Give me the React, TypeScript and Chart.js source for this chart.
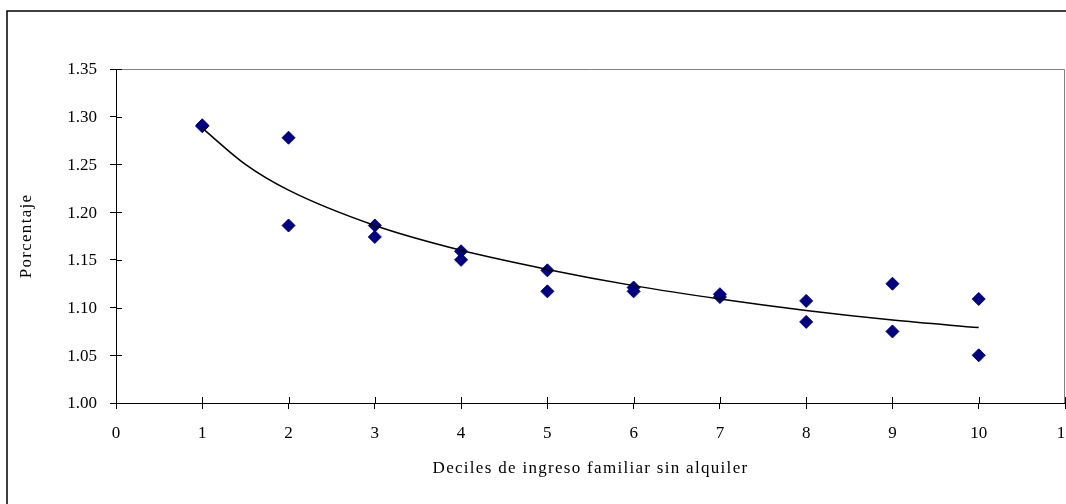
import React, { useEffect, useRef } from "react";
import { Chart, registerables } from "chart.js";

Chart.register(...registerables);

// Deciles de ingreso familiar sin alquiler
const deciles = [1, 2, 3, 4, 5, 6, 7, 8, 9, 10];
// Two observations per decile (upper and lower markers)
const serieA = [1.291, 1.278, 1.186, 1.159, 1.139, 1.121, 1.114, 1.107, 1.125, 1.109];
const serieB = [1.290, 1.186, 1.174, 1.150, 1.117, 1.117, 1.111, 1.085, 1.075, 1.050];
// Trend line
const trendX = [1, 1.5, 2, 3, 4, 5, 6, 7, 8, 9, 10];
const trendY = [1.288, 1.250, 1.223, 1.186, 1.160, 1.140, 1.123, 1.109, 1.097, 1.087, 1.079];
// Axis settings
const xTicks = [0, 1, 2, 3, 4, 5, 6, 7, 8, 9, 10, 11];
const yTicks = [1.0, 1.05, 1.1, 1.15, 1.2, 1.25, 1.3, 1.35];
const xTitle = "Deciles de ingreso familiar sin alquiler";
const yTitle = "Porcentaje";

const FONT = "'Liberation Serif', 'Times New Roman', serif";
const MARKER = "#000080";

const framePlugin = {
  id: "frame",
  afterDraw(chart: any) {
    const { ctx, chartArea: a, scales } = chart;
    ctx.save();
    // plot area border (top & right) in grey
    ctx.strokeStyle = "#808080";
    ctx.lineWidth = 1;
    ctx.beginPath();
    ctx.moveTo(a.left, a.top + 0.5);
    ctx.lineTo(a.right - 0.5, a.top + 0.5);
    ctx.lineTo(a.right - 0.5, a.bottom);
    ctx.stroke();
    // inner halves of cross tick marks
    ctx.strokeStyle = "#000";
    ctx.beginPath();
    yTicks.forEach((v) => {
      const y = Math.round(scales.y.getPixelForValue(v)) + 0.5;
      ctx.moveTo(a.left, y);
      ctx.lineTo(a.left + 6, y);
    });
    xTicks.forEach((v) => {
      const x = Math.round(scales.x.getPixelForValue(v)) + 0.5;
      ctx.moveTo(x, a.bottom);
      ctx.lineTo(x, a.bottom - 6);
    });
    ctx.stroke();
    // outer chart frame
    ctx.lineWidth = 1.5;
    ctx.beginPath();
    ctx.moveTo(7, 504);
    ctx.lineTo(7, 11);
    ctx.lineTo(1066, 11);
    ctx.stroke();
    // tick labels
    ctx.fillStyle = "#000";
    ctx.font = `17px ${FONT}`;
    ctx.textBaseline = "middle";
    ctx.textAlign = "right";
    yTicks.forEach((v) => {
      ctx.fillText(v.toFixed(2), a.left - 19, scales.y.getPixelForValue(v) + 1);
    });
    ctx.textAlign = "center";
    xTicks.forEach((v) => {
      ctx.fillText(String(v), scales.x.getPixelForValue(v), 434);
    });
    // axis titles
    (ctx as any).letterSpacing = "1.3px";
    ctx.fillText(xTitle, (a.left + a.right) / 2, 469);
    ctx.translate(27, (a.top + a.bottom) / 2);
    ctx.rotate(-Math.PI / 2);
    ctx.fillText(yTitle, 0, 0);
    ctx.restore();
  },
};

export default function App() {
  const ref = useRef<HTMLCanvasElement>(null);

  useEffect(() => {
    if (!ref.current) return;
    const chart = new Chart(ref.current, {
      type: "scatter",
      data: {
        datasets: [
          {
            label: "Tendencia",
            data: trendX.map((x, i) => ({ x, y: trendY[i] })),
            showLine: true,
            pointRadius: 0,
            borderColor: "#000",
            borderWidth: 1.5,
            cubicInterpolationMode: "monotone",
            fill: false,
          } as any,
          {
            label: "A",
            data: deciles.map((x, i) => ({ x, y: serieA[i] })),
            pointStyle: "rectRot",
            pointRadius: 6.5,
            borderWidth: 1,
            backgroundColor: MARKER,
            borderColor: MARKER,
            showLine: false,
          },
          {
            label: "B",
            data: deciles.map((x, i) => ({ x, y: serieB[i] })),
            pointStyle: "rectRot",
            pointRadius: 6.5,
            borderWidth: 1,
            backgroundColor: MARKER,
            borderColor: MARKER,
            showLine: false,
          },
        ],
      },
      options: {
        animation: false,
        responsive: false,
        maintainAspectRatio: false,
        layout: { autoPadding: false, padding: { top: 69, right: 1, bottom: 0, left: 0 } },
        plugins: { legend: { display: false }, tooltip: { enabled: false } },
        scales: {
          x: {
            type: "linear",
            min: 0,
            max: 11,
            afterBuildTicks: (s: any) => {
              s.ticks = xTicks.map((v) => ({ value: v }));
            },
            ticks: { display: false },
            grid: { drawOnChartArea: false, color: "#000", tickLength: 6, tickWidth: 1 },
            border: { color: "#000", width: 1 },
            afterFit: (s: any) => {
              s.height = 101;
            },
          },
          y: {
            type: "linear",
            min: 1.0,
            max: 1.35,
            afterBuildTicks: (s: any) => {
              s.ticks = yTicks.map((v) => ({ value: v }));
            },
            ticks: { display: false },
            grid: { drawOnChartArea: false, color: "#000", tickLength: 6, tickWidth: 1 },
            border: { color: "#000", width: 1 },
            afterFit: (s: any) => {
              s.width = 116;
            },
          },
        },
      },
      plugins: [framePlugin],
    });
    return () => chart.destroy();
  }, []);

  return (
    <div style={{ position: "absolute", left: 0, top: 0, width: 1066, height: 504, background: "#fff" }}>
      <canvas ref={ref} width={1066} height={504} style={{ display: "block" }} />
    </div>
  );
}
